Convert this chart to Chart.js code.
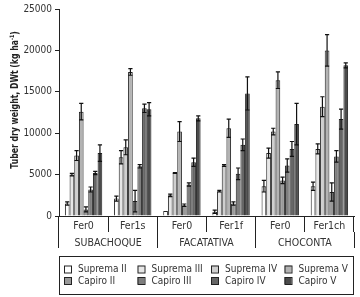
<!DOCTYPE html>
<html>
<head>
<meta charset="utf-8">
<script src="https://cdn.jsdelivr.net/npm/chart.js@4.4.1/dist/chart.umd.min.js"></script>
<style>
  body { margin: 0; background: #fff; }
  #wrap { width: 360px; height: 297px; }
</style>
</head>
<body>
<div id="wrap"><canvas id="myChart" width="360" height="297"></canvas></div>
<script>
// categories
const fertLabels = ['Fer0', 'Fer1s', 'Fer0', 'Fer1f', 'Fer0', 'Fer1ch'];
const siteLabels = ['SUBACHOQUE', 'FACATATIVA', 'CHOCONTA'];
const seriesNames = ['Suprema II', 'Suprema III', 'Suprema IV', 'Suprema V',
                     'Capiro II', 'Capiro III', 'Capiro IV', 'Capiro V'];
const yTicks = [0, 5000, 10000, 15000, 20000, 25000];

// means (kg/ha), one array per variety x stage
const supremaII  = [1500, 2100, 600, 500, 3600, 3600];
const supremaIII = [5000, 7100, 2500, 3000, 7600, 8100];
const supremaIV  = [7300, 8300, 5200, 6100, 10200, 13200];
const supremaV   = [12600, 17400, 10200, 10600, 16400, 20000];
const capiroII   = [800, 1800, 1300, 1500, 4300, 2900];
const capiroIII  = [3200, 6000, 3800, 5100, 6100, 7200];
const capiroIV   = [5200, 13000, 6500, 8600, 8100, 11700];
const capiroV    = [7600, 12900, 11800, 14800, 11100, 18200];

// error bar half lengths
const errSupremaII  = [200, 300, 0, 200, 700, 500];
const errSupremaIII = [150, 800, 150, 100, 600, 600];
const errSupremaIV  = [600, 900, 50, 100, 400, 1200];
const errSupremaV   = [1000, 400, 1200, 1100, 1000, 1900];
const errCapiroII   = [300, 1300, 150, 200, 400, 1100];
const errCapiroIII  = [300, 200, 200, 700, 800, 700];
const errCapiroIV   = [200, 500, 500, 700, 900, 1200];
const errCapiroV    = [1000, 800, 300, 2000, 2500, 300];

const allValues = [supremaII, supremaIII, supremaIV, supremaV, capiroII, capiroIII, capiroIV, capiroV];
const allErrors = [errSupremaII, errSupremaIII, errSupremaIV, errSupremaV, errCapiroII, errCapiroIII, errCapiroIV, errCapiroV];

const fills = ['#ffffff', '#e6e6e6', '#cfcfcf', '#b3b3b3', '#999999', '#7e7e7e', '#666666', '#4b4b4b'];
const FONT = '"DejaVu Sans Condensed", "Liberation Sans", sans-serif';

// error bars drawn on top of the bars
const errorBars = {
  id: 'errorBars',
  afterDatasetsDraw(chart) {
    const ctx = chart.ctx;
    const y = chart.scales.y;
    ctx.save();
    ctx.strokeStyle = '#111';
    ctx.lineWidth = 1.2;
    chart.data.datasets.forEach(function(ds, i) {
      const meta = chart.getDatasetMeta(i);
      meta.data.forEach(function(bar, j) {
        const e = allErrors[i][j];
        if (!e) return;
        const v = ds.data[j];
        const top = y.getPixelForValue(v + e);
        const bot = y.getPixelForValue(v - e);
        const half = bar.width * 0.45;
        ctx.beginPath();
        ctx.moveTo(bar.x, top); ctx.lineTo(bar.x, bot);
        ctx.moveTo(bar.x - half, top); ctx.lineTo(bar.x + half, top);
        ctx.moveTo(bar.x - half, bot); ctx.lineTo(bar.x + half, bot);
        ctx.stroke();
      });
    });
    ctx.restore();
  }
};

// y title and boxed legend
const extras = {
  id: 'extras',
  afterDraw(chart) {
    const ctx = chart.ctx;
    const area = chart.chartArea;
    ctx.save();
    // y axis title, squeezed to look like a narrow face
    ctx.translate(15, 100);
    ctx.rotate(-Math.PI / 2);
    ctx.scale(0.86, 1);
    ctx.fillStyle = '#222';
    ctx.textBaseline = 'middle';
    ctx.textAlign = 'left';
    const main = 'Tuber dry weight, DWt (kg ha';
    ctx.font = 'bold 10px ' + FONT;
    const w1 = ctx.measureText(main).width;
    ctx.font = 'bold 6px ' + FONT;
    const w2 = ctx.measureText('-1').width;
    ctx.font = 'bold 10px ' + FONT;
    const w3 = ctx.measureText(')').width;
    let x0 = -(w1 + w2 + w3) / 2;
    ctx.fillText(main, x0, 0);
    ctx.font = 'bold 6px ' + FONT;
    ctx.fillText('-1', x0 + w1, -3);
    ctx.font = 'bold 10px ' + FONT;
    ctx.fillText(')', x0 + w1 + w2, 0);
    ctx.restore();

    // legend box
    ctx.save();
    const left = area.left, right = area.right - 1;
    const top = 256, bottom = 294;
    ctx.strokeStyle = '#222';
    ctx.lineWidth = 1;
    ctx.strokeRect(left + 0.5, top + 0.5, right - left, bottom - top);
    ctx.font = '10px ' + FONT;
    ctx.textBaseline = 'middle';
    ctx.textAlign = 'left';
    seriesNames.forEach(function(name, k) {
      const col = k % 4, row = Math.floor(k / 4);
      const x = left + 5 + col * 73.5;
      const yy = 269 + row * 11.5;
      ctx.fillStyle = fills[k];
      ctx.fillRect(x, yy - 3.5, 7, 7);
      ctx.strokeStyle = '#222';
      ctx.strokeRect(x + 0.5, yy - 3.5 + 0.5, 7, 7);
      ctx.fillStyle = '#333';
      ctx.fillText(name, x + 14, yy + 0.5);
    });
    ctx.restore();
  }
};

const data = {
  labels: fertLabels,
  datasets: seriesNames.map(function(name, i) {
    return {
      label: name,
      data: allValues[i],
      backgroundColor: fills[i],
      borderColor: '#222',
      borderWidth: 1,
      categoryPercentage: 0.76,
      barPercentage: 1.0
    };
  })
};

const config = {
  type: 'bar',
  data,
  options: {
    responsive: false,
    animation: false,
    devicePixelRatio: 1,
    layout: { padding: { top: 4, left: 24, right: 6, bottom: 49 } },
    plugins: { legend: { display: false }, tooltip: { enabled: false } },
    scales: {
      y: {
        min: 0, max: 25000,
        afterFit(scale) { scale.width = 35; },
        afterBuildTicks(scale) { scale.ticks = yTicks.map(function(v) { return { value: v }; }); },
        ticks: {
          color: '#333', padding: 3, font: { family: FONT, size: 10 },
          callback: function(v) { return String(v); }
        },
        grid: { drawOnChartArea: false, tickLength: 4, color: '#222' },
        border: { display: true, color: '#222' }
      },
      x: {
        position: 'bottom',
        afterFit(scale) { scale.height = 16; },
        ticks: { color: '#333', padding: -12, maxRotation: 0, font: { family: FONT, size: 10.5 } },
        grid: { offset: true, drawOnChartArea: false, tickLength: 16, color: '#222' },
        border: { display: true, color: '#222' }
      },
      x2: {
        type: 'category',
        position: 'bottom',
        labels: siteLabels,
        offset: true,
        afterFit(scale) { scale.height = 16; },
        ticks: { color: '#333', padding: -11, maxRotation: 0, font: { family: FONT, size: 10.5 } },
        grid: { offset: true, drawOnChartArea: false, tickLength: 16, color: '#222' },
        border: { display: false }
      }
    }
  },
  plugins: [errorBars, extras]
};

const myChart = new Chart(document.getElementById('myChart'), config);
</script>
</body>
</html>
